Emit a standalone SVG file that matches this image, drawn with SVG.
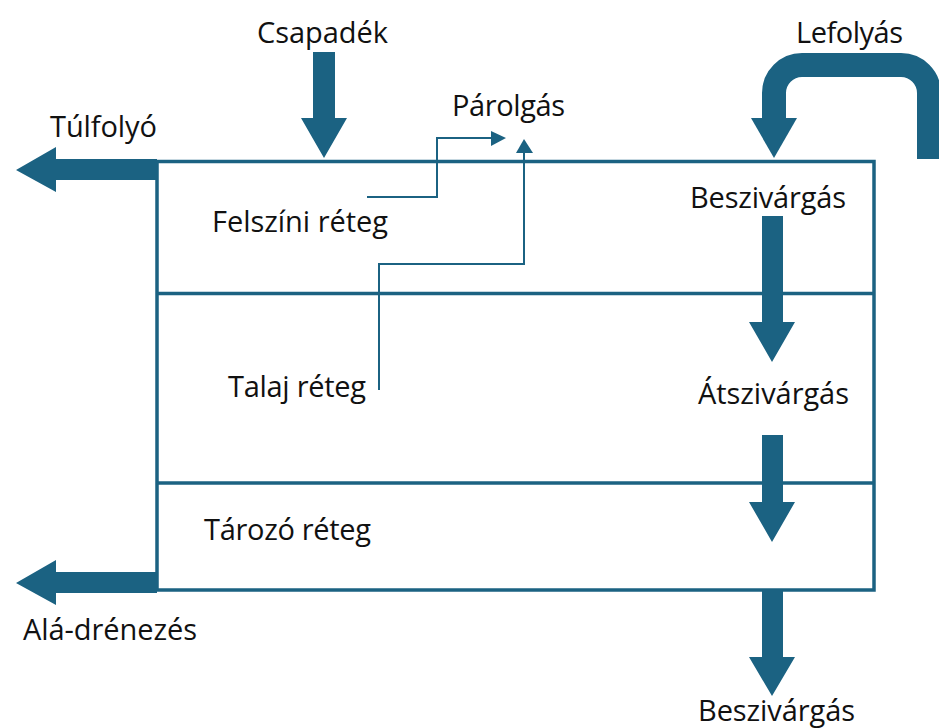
<svg xmlns="http://www.w3.org/2000/svg" width="939" height="728" viewBox="0 0 939 728">
<style>
.box{fill:none;stroke:#1b6282;stroke-width:3.5}
.thin{fill:none;stroke:#1b6282;stroke-width:2}
.fill{fill:#1b6282}
.lbl{font-family:"Open Sans","Noto Sans",sans-serif;font-size:29px;fill:#111}
</style>
<rect width="939" height="728" fill="#fff"/>
<g id="layers">
<rect class="box" x="157" y="161.5" width="717" height="428.5"/>
<line class="box" x1="157" y1="293.5" x2="874" y2="293.5"/>
<line class="box" x1="157" y1="483" x2="874" y2="483"/>
</g>
<g id="connectors">
<polygon class="fill" points="313,52 335,52 335,118 347,118 324,158 301,118 313,118"/>
<polygon class="fill" points="157,159 157,180 56,180 56,192 16,170 56,147 56,159"/>
<polygon class="fill" points="157,572 157,593 56,593 56,605 16,583 56,560 56,572"/>
<path d="M774,120 V93 A28,28 0 0 1 802,65 H901 A28,28 0 0 1 929,93 V159" fill="none" stroke="#1b6282" stroke-width="24"/>
<polygon class="fill" points="751,118 797,118 774,158"/>
<polygon class="fill" points="762,216 783,216 783,322 795,322 772,362 749,322 762,322"/>
<polygon class="fill" points="762,435 783,435 783,502 795,502 772,542 749,502 762,502"/>
<polygon class="fill" points="762,590 783,590 783,657 795,657 772,696 749,657 762,657"/>
<polyline class="thin" points="367,197 437,197 437,138 492,138"/>
<polygon class="fill" points="491,131 506,138 491,146"/>
<polyline class="thin" points="379,390 379,264 524,264 524,152"/>
<polygon class="fill" points="516,153 533,153 524,139"/>
</g>
<g id="labels">
<text class="lbl" x="257" y="43" textLength="131">Csapadék</text>
<text class="lbl" x="50" y="137" textLength="107">Túlfolyó</text>
<text class="lbl" x="452" y="116" textLength="113">Párolgás</text>
<text class="lbl" x="796" y="43" textLength="107">Lefolyás</text>
<text class="lbl" x="212" y="232" textLength="176">Felszíni réteg</text>
<text class="lbl" x="690" y="208" textLength="156">Beszivárgás</text>
<text class="lbl" x="228" y="397" textLength="138">Talaj réteg</text>
<text class="lbl" x="698" y="404" textLength="151">Átszivárgás</text>
<text class="lbl" x="204" y="540" textLength="167">Tározó réteg</text>
<text class="lbl" x="23" y="640" textLength="174">Alá-drénezés</text>
<text class="lbl" x="698" y="721" textLength="157">Beszivárgás</text>
</g>
</svg>
